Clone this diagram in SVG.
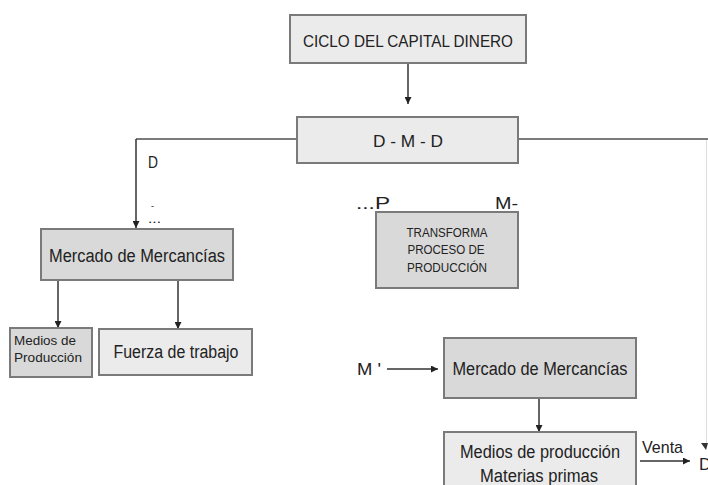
<svg xmlns="http://www.w3.org/2000/svg" width="708" height="485" viewBox="0 0 708 485">
<style>
text{font-family:"Liberation Sans",Arial,sans-serif;fill:#222}
.box{stroke:#7a7a7a;stroke-width:2}
.light{fill:#ebebeb}
.dark{fill:#d9d9d9}
.t17{font-size:17px}
.t12{font-size:12px}
.c{text-anchor:middle}
.con{fill:none;stroke:#333;stroke-width:1.5}
.gcon{fill:none;stroke:#7a7a7a;stroke-width:2}
</style>
<defs>
<marker id="ah" viewBox="0 0 10 10" refX="10" refY="5" markerWidth="7" markerHeight="7" markerUnits="userSpaceOnUse" orient="auto"><path d="M0,0 L10,5 L0,10 z" fill="#222"/></marker>
</defs>
<rect width="708" height="485" fill="#fff"/>
<g id="connectors">
<path class="con" d="M408,63 V104" marker-end="url(#ah)"/>
<path class="gcon" d="M297,139 H136"/>
<path class="con" d="M136,139 V228" marker-end="url(#ah)"/>
<path class="gcon" d="M518,139 H708"/>
<path d="M706.5,140 V445" fill="none" stroke="#ddd" stroke-width="1"/>
<path d="M701,443 L708,443 L706,450 z" fill="#333"/>
<path class="con" d="M58,281 V328" marker-end="url(#ah)"/>
<path class="con" d="M178,281 V329" marker-end="url(#ah)"/>
<path class="con" d="M387,369 H438" marker-end="url(#ah)"/>
<path class="con" d="M539,398 V432" marker-end="url(#ah)"/>
<path class="con" d="M640,461 H690" marker-end="url(#ah)"/>
</g>
<g id="ciclo">
<rect class="box light" x="290" y="15" width="236" height="48"/>
<text class="t17 c" x="408" y="47" textLength="210" lengthAdjust="spacingAndGlyphs">CICLO DEL CAPITAL DINERO</text>
</g>
<g id="dmd">
<rect class="box light" x="297" y="117" width="221" height="46"/>
<text class="t17 c" x="408" y="147" textLength="70" lengthAdjust="spacingAndGlyphs">D - M - D</text>
</g>
<g id="labels">
<text class="t17" x="148" y="168" textLength="10" lengthAdjust="spacingAndGlyphs">D</text>
<text x="151" y="209" style="font-size:9px">-</text>
<text class="t12" x="148" y="223" textLength="13" lengthAdjust="spacingAndGlyphs">...</text>
<text class="t17" x="356" y="209" textLength="34" lengthAdjust="spacingAndGlyphs">...P</text>
<text class="t17" x="495" y="209" textLength="23" lengthAdjust="spacingAndGlyphs">M-</text>
<text class="t17" x="357" y="375" textLength="24" lengthAdjust="spacingAndGlyphs">M '</text>
<text class="t17" x="642" y="453" textLength="41" lengthAdjust="spacingAndGlyphs">Venta</text>
<text class="t17" x="699" y="470">D</text>
</g>
<g id="mercado1">
<rect class="box dark" x="41" y="229" width="192" height="51"/>
<text class="t17 c" x="137" y="262" style="font-size:18px" textLength="176" lengthAdjust="spacingAndGlyphs">Mercado de Mercancías</text>
</g>
<g id="medios1">
<rect class="box dark" x="10" y="328" width="82" height="49"/>
<text class="t12" x="14" y="345" textLength="62" lengthAdjust="spacingAndGlyphs">Medios de</text>
<text class="t12" x="14" y="362" textLength="68" lengthAdjust="spacingAndGlyphs">Producción</text>
</g>
<g id="fuerza">
<rect class="box light" x="99" y="329" width="153" height="46"/>
<text class="t17 c" x="176" y="358" style="font-size:18px" textLength="125" lengthAdjust="spacingAndGlyphs">Fuerza de trabajo</text>
</g>
<g id="transforma">
<rect class="box dark" x="376" y="212" width="142" height="76"/>
<text class="t12 c" x="447" y="237" textLength="81" lengthAdjust="spacingAndGlyphs">TRANSFORMA</text>
<text class="t12 c" x="446" y="254" textLength="77" lengthAdjust="spacingAndGlyphs">PROCESO DE</text>
<text class="t12 c" x="447" y="272" textLength="80" lengthAdjust="spacingAndGlyphs">PRODUCCIÓN</text>
</g>
<g id="mercado2">
<rect class="box dark" x="444" y="338" width="192" height="60"/>
<text class="t17 c" x="540" y="375" style="font-size:18px" textLength="175" lengthAdjust="spacingAndGlyphs">Mercado de Mercancías</text>
</g>
<g id="medios2">
<rect class="box light" x="444" y="432" width="192" height="60"/>
<text class="t17 c" x="540" y="458" style="font-size:18px" textLength="160" lengthAdjust="spacingAndGlyphs">Medios de producción</text>
<text class="t17 c" x="539" y="482" style="font-size:18px" textLength="118" lengthAdjust="spacingAndGlyphs">Materias primas</text>
</g>
</svg>
